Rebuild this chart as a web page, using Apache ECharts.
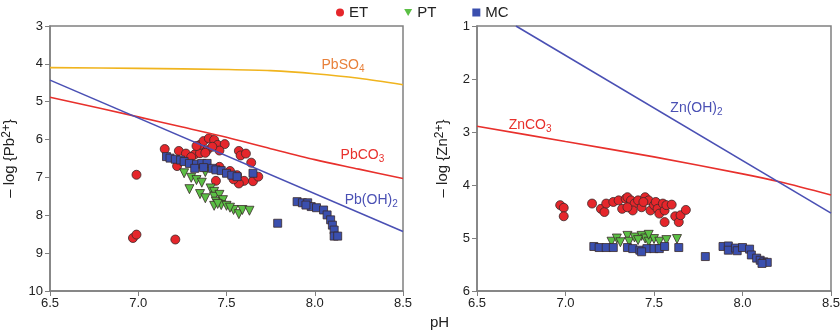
<!DOCTYPE html>
<html>
<head>
<meta charset="utf-8">
<script src="https://cdn.jsdelivr.net/npm/echarts@6/dist/echarts.min.js"></script>
<style>
  html, body { margin: 0; padding: 0; background: #fff; }
  #main { width: 840px; height: 334px; }
</style>
</head>
<body>
<div id="main"></div>
<script>
// pH ticks
const phTicks = [6.5, 7.0, 7.5, 8.0, 8.5];

// left panel: -log{Pb2+} vs pH, [pH, value]
const pbET = [
  [6.99, 6.93], [6.97, 8.60], [6.99, 8.51], [7.21, 8.64], [7.15, 6.25], [7.23, 6.30],
  [7.27, 6.37], [7.32, 6.39], [7.35, 6.36], [7.35, 6.14], [7.37, 6.04], [7.40, 5.97],
  [7.43, 6.01], [7.45, 6.14], [7.49, 6.12], [7.46, 6.29], [7.39, 6.28], [7.42, 6.19],
  [7.33, 6.17], [7.57, 6.30], [7.58, 6.42], [7.61, 6.37], [7.64, 6.61], [7.44, 7.09],
  [7.56, 6.94], [7.58, 7.11], [7.60, 7.09], [7.65, 7.10], [7.68, 6.98], [7.52, 6.83],
  [7.22, 6.70], [7.46, 6.72], [7.57, 7.16], [7.54, 7.05], [7.30, 6.46], [7.38, 6.35]
];
const pbPT = [
  [7.26, 6.89], [7.30, 7.01], [7.33, 7.07], [7.36, 7.14], [7.29, 7.31], [7.35, 7.44],
  [7.38, 7.55], [7.41, 7.29], [7.43, 7.38], [7.43, 7.51], [7.44, 7.64], [7.46, 7.46],
  [7.48, 7.60], [7.47, 7.73], [7.50, 7.75], [7.43, 7.75], [7.54, 7.86], [7.57, 7.97],
  [7.59, 7.86], [7.63, 7.88], [7.38, 6.86], [7.45, 7.70], [7.52, 7.80]
];
const pbMC = [
  [7.16, 6.45], [7.18, 6.49], [7.21, 6.52], [7.24, 6.54], [7.26, 6.58], [7.29, 6.63],
  [7.33, 6.65], [7.36, 6.63], [7.39, 6.63], [7.37, 6.74], [7.42, 6.76], [7.44, 6.80],
  [7.47, 6.82], [7.50, 6.89], [7.53, 6.94], [7.56, 6.98], [7.65, 6.89], [7.32, 6.76],
  [7.79, 8.21], [7.90, 7.64], [7.93, 7.67], [7.96, 7.67], [7.98, 7.77], [8.01, 7.80],
  [8.05, 7.86], [8.07, 7.99], [8.09, 8.12], [8.10, 8.26], [8.11, 8.39], [8.11, 8.55],
  [8.13, 8.55], [7.95, 7.73]
];

// right panel: -log{Zn2+} vs pH
const znET = [
  [6.97, 4.38], [6.99, 4.43], [6.99, 4.59], [7.15, 4.35], [7.20, 4.45], [7.22, 4.51],
  [7.23, 4.35], [7.27, 4.32], [7.30, 4.29], [7.32, 4.45], [7.34, 4.26], [7.35, 4.23],
  [7.37, 4.29], [7.39, 4.35], [7.41, 4.29], [7.43, 4.42], [7.45, 4.23], [7.47, 4.29],
  [7.48, 4.48], [7.50, 4.38], [7.51, 4.32], [7.52, 4.45], [7.53, 4.54], [7.55, 4.35],
  [7.56, 4.48], [7.56, 4.70], [7.57, 4.38], [7.60, 4.37], [7.62, 4.59], [7.64, 4.70],
  [7.65, 4.57], [7.68, 4.47], [7.38, 4.48], [7.44, 4.32], [7.35, 4.42]
];
const znPT = [
  [7.26, 5.07], [7.29, 5.01], [7.31, 5.08], [7.35, 4.96], [7.36, 5.07], [7.39, 4.99],
  [7.43, 4.96], [7.45, 5.01], [7.47, 5.07], [7.50, 5.02], [7.53, 5.07], [7.57, 5.04],
  [7.63, 5.02], [7.41, 5.04], [7.47, 4.94]
];
const znMC = [
  [7.16, 5.16], [7.19, 5.18], [7.23, 5.18], [7.27, 5.18], [7.35, 5.18], [7.38, 5.20],
  [7.42, 5.23], [7.46, 5.20], [7.50, 5.20], [7.53, 5.20], [7.56, 5.16], [7.64, 5.18],
  [7.43, 5.26], [7.79, 5.35], [7.89, 5.16], [7.92, 5.15], [7.92, 5.23], [7.96, 5.19],
  [7.97, 5.24], [8.00, 5.18], [8.04, 5.21], [8.05, 5.32], [8.08, 5.38], [8.10, 5.42],
  [8.12, 5.45], [8.14, 5.46], [8.11, 5.48]
];

// solubility lines
const pbso4Line = [[6.5, 4.10], [7.0, 4.12], [7.5, 4.15], [7.75, 4.18], [8.0, 4.26], [8.25, 4.38], [8.5, 4.55]];
const pbco3Line = [[6.5, 4.88], [7.0, 5.40], [7.25, 5.67], [7.5, 5.94], [7.75, 6.24], [8.0, 6.53], [8.25, 6.78], [8.5, 7.03]];
const pbohLine = [[6.5, 4.43], [8.5, 8.43]];
const znco3Line = [[6.5, 2.89], [7.0, 3.18], [7.5, 3.47], [8.0, 3.79], [8.21, 3.94], [8.5, 4.19]];
const znohLine = [[6.72, 1.0], [8.5, 4.53]];

const C_RED = '#e5262b';
const C_GREEN = '#5bbf45';
const C_BLUE = '#3a4fae';
const TRI = 'path://M0,0 L10,0 L5,9 Z';
const FONT = 'Liberation Sans';

// rich styles for sub/superscripts
function richSet(color, size) {
  return {
    a: { color: color, fontSize: size, lineHeight: 18, fontFamily: FONT },
    sub: { color: color, fontSize: size - 4, lineHeight: 10, verticalAlign: 'bottom', fontFamily: FONT },
    sup: { color: color, fontSize: size - 3, lineHeight: 10, verticalAlign: 'top', fontFamily: FONT }
  };
}

function scatter(name, data, idx, symbol, size, color) {
  return {
    name: name, type: 'scatter', xAxisIndex: idx, yAxisIndex: idx,
    data: data, symbol: symbol, symbolSize: size, z: 3,
    itemStyle: { color: color, borderColor: '#3a2a2a', borderWidth: 0.8, opacity: 1 }
  };
}

function curve(data, idx, color, label, coord, labelColor) {
  return {
    type: 'line', xAxisIndex: idx, yAxisIndex: idx, data: data,
    showSymbol: false, smooth: 0.3, z: 4, silent: true,
    lineStyle: { color: color, width: 1.6 },
    markPoint: {
      symbol: 'circle', symbolSize: 1,
      itemStyle: { color: 'rgba(0,0,0,0)' },
      label: { show: true, position: 'inside', formatter: label, rich: richSet(labelColor || color, 14) },
      data: [{ coord: coord }]
    }
  };
}

function xAxis(idx) {
  return {
    type: 'value', gridIndex: idx, min: 6.5, max: 8.5, interval: 0.5,
    axisLine: { show: true, lineStyle: { color: '#808080', width: 1.5 } },
    axisTick: { show: true, length: 5, lineStyle: { color: '#808080' } },
    splitLine: { show: false },
    axisLabel: { color: '#222', fontSize: 13, margin: 6, fontFamily: FONT,
                 formatter: v => v.toFixed(1) }
  };
}

function yAxis(idx, min, max, name, gap) {
  return {
    type: 'value', gridIndex: idx, min: min, max: max, interval: 1, inverse: true,
    name: name, nameLocation: 'middle', nameGap: gap, nameRotate: 90,
    nameTextStyle: { color: '#222', fontSize: 15, fontFamily: FONT, rich: richSet('#222', 15) },
    axisLine: { show: true, lineStyle: { color: '#808080', width: 1.5 } },
    axisTick: { show: true, length: 5, lineStyle: { color: '#808080' } },
    splitLine: { show: false },
    axisLabel: { color: '#222', fontSize: 13, margin: 7, fontFamily: FONT }
  };
}

const chart = echarts.init(document.getElementById('main'));
chart.setOption({
  animation: false,
  backgroundColor: '#fff',
  textStyle: { fontFamily: FONT },
  legend: {
    top: 0, left: 331, itemWidth: 8, itemHeight: 8, itemGap: 36,
    textStyle: { color: '#222', fontSize: 15 },
    itemStyle: { borderWidth: 0 },
    data: [
      { name: 'ET', icon: 'circle' },
      { name: 'PT', icon: TRI },
      { name: 'MC', icon: 'rect' }
    ]
  },
  grid: [
    { left: 50, right: 437, top: 26, bottom: 43, outerBoundsMode: 'none',
      show: true, borderColor: '#808080', borderWidth: 1.5 },
    { left: 477, right: 9, top: 26, bottom: 43, outerBoundsMode: 'none',
      show: true, borderColor: '#808080', borderWidth: 1.5 }
  ],
  xAxis: [xAxis(0), xAxis(1)],
  yAxis: [
    yAxis(0, 3, 10, '{a|\u2013 log {Pb}{sup|2+}}', 31),
    yAxis(1, 1, 6, '{a|\u2013 log {Zn}{sup|2+}}', 25)
  ],
  graphic: [
    { type: 'text', left: 430, top: 315, style: { text: 'pH', fontSize: 15, fill: '#222', fontFamily: FONT } }
  ],
  series: [
    curve(pbso4Line, 0, '#f0b41e', '{a|PbSO}{sub|4}', [8.16, 4.03], '#e8803a'),
    curve(pbco3Line, 0, '#e8302c', '{a|PbCO}{sub|3}', [8.27, 6.41]),
    curve(pbohLine, 0, '#4a50b4', '{a|Pb(OH)}{sub|2}', [8.32, 7.6]),
    curve(znco3Line, 1, '#e8302c', '{a|ZnCO}{sub|3}', [6.80, 2.87]),
    curve(znohLine, 1, '#4a50b4', '{a|Zn(OH)}{sub|2}', [7.74, 2.55]),
    scatter('ET', pbET, 0, 'circle', 9, C_RED),
    scatter('PT', pbPT, 0, TRI, 9, C_GREEN),
    scatter('MC', pbMC, 0, 'rect', 8, C_BLUE),
    scatter('ET', znET, 1, 'circle', 9, C_RED),
    scatter('PT', znPT, 1, TRI, 9, C_GREEN),
    scatter('MC', znMC, 1, 'rect', 8, C_BLUE)
  ]
});
</script>
</body>
</html>
